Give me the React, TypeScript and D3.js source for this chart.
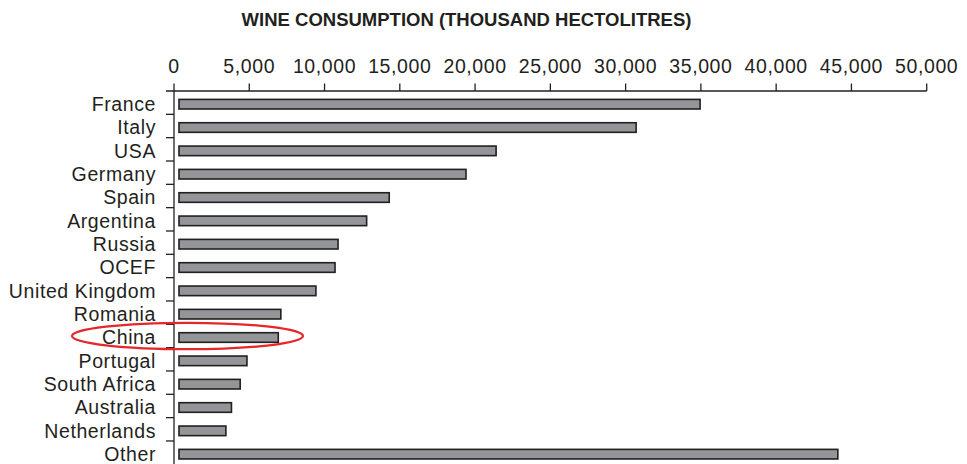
import React from "react";
import * as d3 from "d3";

const categories = [
  "France", "Italy", "USA", "Germany", "Spain", "Argentina", "Russia", "OCEF",
  "United Kingdom", "Romania", "China", "Portugal", "South Africa", "Australia",
  "Netherlands", "Other",
];
const values = [
  35000, 30750, 21450, 19450, 14350, 12850, 10950, 10750,
  9480, 7150, 6980, 4900, 4450, 3870, 3500, 44150,
];
const tickValues = [0, 5000, 10000, 15000, 20000, 25000, 30000, 35000, 40000, 45000, 50000];
const title = "WINE CONSUMPTION (THOUSAND HECTOLITRES)";
const highlighted = "China";

const W = 967;
const H = 464;
const INK = "#231f20";
const FONT = "'Liberation Sans', Arial, Helvetica, sans-serif";

export default function App() {
  const x = d3.scaleLinear().domain([0, 50000]).range([174, 926.7]);
  const y = d3.scaleBand<string>().domain(categories).range([91, 464.3]).paddingInner(0).paddingOuter(0);
  const barTop = 8.4;
  const barH = 9.6;
  const fmt = d3.format(",");
  const axisY = 91;
  const axisX = x(0);
  const hiY = (y(highlighted) as number) + barTop + barH / 2;

  return (
    <svg width={W} height={H} style={{ position: "absolute", left: 0, top: 0, background: "#fff" }}>
      <text x={466.5} y={26} textAnchor="middle" fontFamily={FONT} fontWeight="bold" fontSize={18.5}
        fill={INK}>{title}</text>

      {/* top axis */}
      <line x1={166} x2={x(50000)} y1={axisY} y2={axisY} stroke={INK} strokeWidth={1.3} />
      {tickValues.map((t) => (
        <g key={t}>
          <line x1={x(t)} x2={x(t)} y1={axisY - 7.5} y2={axisY} stroke={INK} strokeWidth={1.3} />
          <text x={x(t)} y={72.5} textAnchor="middle" fontFamily={FONT} fontSize={19.5}
            letterSpacing={0.6} fill={INK}>{fmt(t)}</text>
        </g>
      ))}

      {/* vertical axis */}
      <line x1={axisX} x2={axisX} y1={axisY} y2={H} stroke={INK} strokeWidth={1.3} />
      {categories.slice(1).map((c) => (
        <line key={"t" + c} x1={166} x2={axisX} y1={y(c) as number} y2={y(c) as number}
          stroke={INK} strokeWidth={1.3} />
      ))}

      {/* bars */}
      {categories.map((c, i) => {
        const by = (y(c) as number) + barTop;
        return (
          <g key={c}>
            <rect x={179} y={by} width={x(values[i]) - 179.8} height={barH}
              fill="#939598" stroke={INK} strokeWidth={1.6} />
            <text x={156} y={by + barH / 2 + 6.8} textAnchor="end" fontFamily={FONT}
              fontSize={19.5} letterSpacing={0.6} fill={INK}>{c}</text>
          </g>
        );
      })}

      {/* highlight ellipse */}
      <ellipse cx={187.5} cy={hiY - 1.5} rx={115.5} ry={13.2} fill="none" stroke="#e5262b" strokeWidth={2.2} />
    </svg>
  );
}
